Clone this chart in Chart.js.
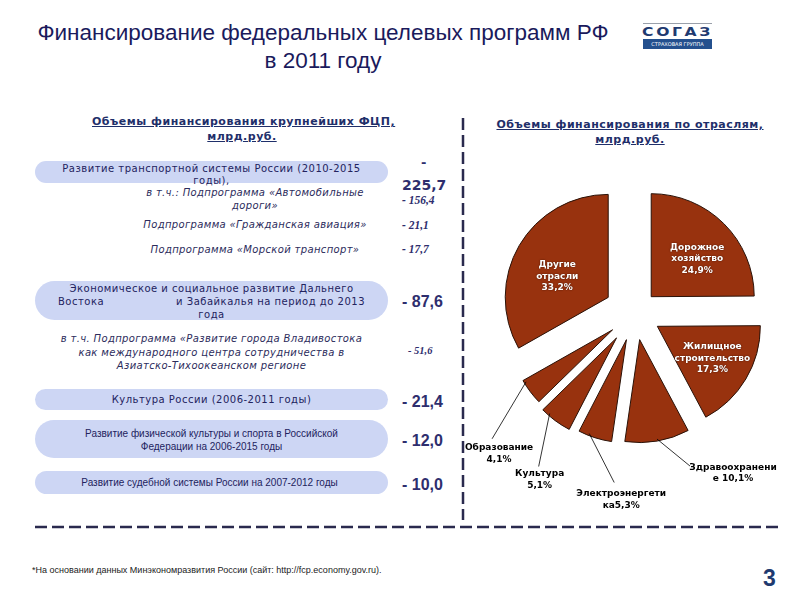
<!DOCTYPE html>
<html lang="ru">
<head>
<meta charset="utf-8">
<script src="https://cdn.jsdelivr.net/npm/chart.js@4.4.0/dist/chart.umd.min.js"></script>
<style>
  body { margin: 0; background: #fff; }
  #slide { position: relative; width: 800px; height: 600px; overflow: hidden; font-family: "DejaVu Sans", sans-serif; color: #1e1e5c; }
  .abs { position: absolute; white-space: nowrap; }
  .title { left: 0; top: 19px; width: 646px; text-align: center; font-family: "Liberation Sans Narrow", "Arial Narrow", "Liberation Sans", sans-serif; font-size: 22.5px; line-height: 28px; color: #1a1a5c; }
  .head { font-weight: bold; font-size: 11px; letter-spacing: 0.5px; line-height: 15px; text-align: center; text-decoration: underline; color: #1f2f6a; }
  .pill { position: absolute; left: 35px; width: 353px; background: #cdd6f4; border-radius: 999px; }
  .ptext { position: absolute; left: 35px; width: 353px; text-align: center; font-size: 10px; letter-spacing: 0.5px; line-height: 13px; color: #23235e; white-space: nowrap; }
  .ital { font-style: italic; color: #2c2c5c; letter-spacing: 0.35px; }
  .arial { font-family: "Liberation Sans", Arial, sans-serif; letter-spacing: 0; }
  .val { position: absolute; font-weight: bold; color: #2e2e6e; white-space: nowrap; }
  .big { font-family: "Liberation Sans", Arial, sans-serif; font-size: 16px; }
  .small { font-family: "Liberation Serif", serif; font-style: italic; font-size: 11.5px; }
  #pie { position: absolute; left: 455px; top: 150px; }
</style>
</head>
<body>
<div id="slide">
  <div class="abs title">Финансирование федеральных целевых программ РФ<br>в 2011 году</div>

  <div class="abs" style="left:643px;top:23px;width:69px;height:1px;background:#9aa0aa;"></div>
  <div class="abs" style="left:643px;top:26px;width:69px;text-align:center;font-weight:bold;font-size:12px;line-height:12px;color:#1f3a70;letter-spacing:2px;transform:scaleX(1.3);transform-origin:center;">СОГАЗ</div>
  <div class="abs" style="left:643px;top:39px;width:69px;height:10px;background:#24508e;color:#fff;font-size:5px;line-height:10px;text-align:center;">СТРАХОВАЯ ГРУППА</div>

  <div class="abs head" style="left:92px;top:114px;width:300px;">Объемы финансирования крупнейших ФЦП,<br>млрд.руб.</div>
  <div class="abs head" style="left:480px;top:117px;width:300px;">Объемы финансирования по отраслям,<br>млрд.руб.</div>

  <div id="table"></div>

  <svg class="abs" style="left:0;top:0;" width="800" height="600">
    <line x1="463" y1="118" x2="463" y2="520" stroke="#2a2a4e" stroke-width="2.5" stroke-dasharray="12 5"/>
    <line x1="35" y1="527" x2="781" y2="527" stroke="#2a2a4e" stroke-width="2.5" stroke-dasharray="12 5"/>
  </svg>

  <canvas id="pie" width="345" height="370"></canvas>

  <div class="abs" style="left:32px;top:565px;font-family:'Liberation Sans Narrow','Arial Narrow',sans-serif;font-size:9px;color:#222;">*На основании данных Минэкономразвития России (сайт: http://fcp.economy.gov.ru).</div>
  <div class="abs" style="left:763px;top:565px;font-family:'Liberation Sans',Arial,sans-serif;font-weight:bold;font-size:23px;color:#1f3a70;">3</div>
</div>

<script>
// largest programmes, bn rub
const programs = [
  'Развитие транспортной системы России (2010-2015 годы),',
  'Экономическое и социальное развитие Дальнего Востока и Забайкалья на период до 2013 года',
  'Культура России (2006-2011 годы)',
  'Развитие физической культуры и спорта в Российской Федерации на 2006-2015 годы',
  'Развитие судебной системы России на 2007-2012 годы'
];
const programValues = [225.7, 87.6, 21.4, 12.0, 10.0];
const subPrograms = [
  'Подпрограмма «Автомобильные дороги»',
  'Подпрограмма «Гражданская авиация»',
  'Подпрограмма «Морской транспорт»',
  'Подпрограмма «Развитие города Владивостока как международного центра сотрудничества в Азиатско-Тихоокеанском регионе'
];
const subValues = [156.4, 21.1, 17.7, 51.6];

// funding by sector, %
const sectors = ['Дорожное хозяйство', 'Жилищное строительство', 'Здравоохранение', 'Электроэнергетика', 'Культура', 'Образование', 'Другие отрасли'];
const shares = [24.9, 17.3, 10.1, 5.3, 5.1, 4.1, 33.2];
const sectorLabel = [
  ['Дорожное', 'хозяйство', '{p}'],
  ['Жилищное', 'строительство', '{p}'],
  ['Здравоохранени', 'е {p}'],
  ['Электроэнергети', 'ка{p}'],
  ['Культура', '{p}'],
  ['Образование', '{p}'],
  ['Другие', 'отрасли', '{p}']
];

const fmt = v => v.toFixed(1).replace('.', ',');

// left table
const t = document.getElementById('table');
function add(html) { t.insertAdjacentHTML('beforeend', html); }

add('<div class="pill" style="top:161px;height:22px;"></div>');
add('<div class="ptext" style="top:163px;line-height:12px;">Развитие транспортной системы России (2010-2015<br>годы),</div>');
add('<div class="ptext ital" style="top:186px;left:140px;width:230px;">в т.ч.: ' + subPrograms[0].replace('«Автомобильные ', '«Автомобильные<br>') + '</div>');
add('<div class="ptext ital" style="top:218px;left:140px;width:230px;">' + subPrograms[1] + '</div>');
add('<div class="ptext ital" style="top:243px;left:140px;width:230px;">' + subPrograms[2] + '</div>');

add('<div class="pill" style="top:281px;height:39px;"></div>');
add('<div class="ptext" style="top:282px;">Экономическое и социальное развитие Дальнего<br>' +
    '<span style="display:flex;justify-content:space-between;width:307px;margin-left:23px;"><span>Востока</span><span>и Забайкалья на период до 2013</span></span>года</div>');
add('<div class="ptext ital" style="top:332px;left:35px;width:353px;line-height:13.5px;">в т.ч. Подпрограмма «Развитие города Владивостока<br>как международного центра сотрудничества в<br>Азиатско-Тихоокеанском регионе</div>');

add('<div class="pill" style="top:389px;height:21px;"></div>');
add('<div class="ptext" style="top:393px;">' + programs[2] + '</div>');

add('<div class="pill" style="top:420px;height:38px;"></div>');
add('<div class="ptext arial" style="top:427px;">Развитие физической культуры и спорта в Российской<br>Федерации на 2006-2015 годы</div>');

add('<div class="pill" style="top:471px;height:23px;"></div>');
add('<div class="ptext arial" style="top:476px;left:33px;">' + programs[4] + '</div>');

// values column
add('<div class="val" style="left:421px;top:155px;font-size:13px;">-</div>');
add('<div class="val" style="left:402px;top:177px;font-size:14px;">' + fmt(programValues[0]) + '</div>');
add('<div class="val small" style="left:402px;top:194px;">- ' + fmt(subValues[0]) + '</div>');
add('<div class="val small" style="left:402px;top:219px;">- ' + fmt(subValues[1]) + '</div>');
add('<div class="val small" style="left:402px;top:243px;">- ' + fmt(subValues[2]) + '</div>');
add('<div class="val big" style="left:402px;top:293px;">- ' + fmt(programValues[1]) + '</div>');
add('<div class="val small" style="left:408px;top:345px;font-size:10.5px;">- ' + fmt(subValues[3]) + '</div>');
add('<div class="val big" style="left:402px;top:393px;">- ' + fmt(programValues[2]) + '</div>');
add('<div class="val big" style="left:402px;top:432px;">- ' + fmt(programValues[3]) + '</div>');
add('<div class="val big" style="left:402px;top:476px;">- ' + fmt(programValues[4]) + '</div>');

// pie where every slice is pulled out by its own distance, radius unchanged
class ExplodedPieController extends Chart.PieController {
  draw() {
    const ctx = this.chart.ctx;
    const shifts = this.getDataset().explode || [];
    this._cachedMeta.data.forEach((arc, i) => {
      const mid = (arc.startAngle + arc.endAngle) / 2;
      const d = shifts[i] || 0;
      ctx.save();
      ctx.translate(Math.cos(mid) * d, Math.sin(mid) * d);
      arc.draw(ctx);
      ctx.restore();
    });
  }
}
ExplodedPieController.id = 'explodedPie';
Chart.register(ExplodedPieController);

// pie labels: inside ones are placed from the slice tip, outside ones get a leader line
const pieLabels = {
  id: 'pieLabels',
  afterDatasetsDraw(chart, args, opts) {
    const ctx = chart.ctx;
    const meta = chart.getDatasetMeta(0);
    const shifts = chart.data.datasets[0].explode;
    ctx.save();
    ctx.font = 'bold 9px "DejaVu Sans", sans-serif';
    ctx.textAlign = 'center';
    ctx.textBaseline = 'middle';
    meta.data.forEach((arc, i) => {
      const p = arc.getProps(['x', 'y', 'startAngle', 'endAngle', 'outerRadius'], true);
      const mid = (p.startAngle + p.endAngle) / 2;
      const cx = p.x + Math.cos(mid) * shifts[i];
      const cy = p.y + Math.sin(mid) * shifts[i];
      const pl = opts.place[i];
      const lines = sectorLabel[i].map(s => s.replace('{p}', fmt(shares[i]) + '%'));
      let tx, ty;
      if (pl.inside) {
        tx = cx + pl.dx; ty = cy + pl.dy;
        ctx.fillStyle = '#fff';
        ctx.shadowColor = 'rgba(40,10,0,0.9)';
        ctx.shadowBlur = 1.5;
      } else {
        const a = p.startAngle + pl.t * (p.endAngle - p.startAngle);
        const ex = cx + Math.cos(a) * p.outerRadius * 0.98;
        const ey = cy + Math.sin(a) * p.outerRadius * 0.98;
        ctx.shadowBlur = 0;
        ctx.strokeStyle = '#000';
        ctx.lineWidth = 0.8;
        ctx.beginPath();
        ctx.moveTo(ex, ey);
        ctx.lineTo(ex + pl.lx, ey + pl.ly);
        ctx.stroke();
        tx = ex + pl.dx; ty = ey + pl.dy;
        ctx.fillStyle = '#000';
      }
      const lh = 11.5;
      lines.forEach((s, k) => ctx.fillText(s, tx, ty + (k - (lines.length - 1) / 2) * lh));
    });
    ctx.restore();
  }
};

new Chart(document.getElementById('pie'), {
  type: 'explodedPie',
  data: {
    labels: sectors,
    datasets: [{
      data: shares,
      backgroundColor: '#98320e',
      borderColor: '#2a1208',
      borderWidth: 1,
      explode: [23, 26, 27, 28, 31, 28, 31]
    }]
  },
  options: {
    responsive: false,
    animation: false,
    radius: 103,
    layout: { padding: { left: 15, right: 0, top: 0, bottom: 44 } },
    plugins: {
      legend: { display: false },
      tooltip: { enabled: false },
      pieLabels: {
        place: [
          { inside: true, dx: 46, dy: -38 },
          { inside: true, dx: 55, dy: 32 },
          { t: 0.5, lx: 33, ly: 27, dx: 76, dy: 34 },
          { t: 0.7, lx: 25, ly: 49, dx: 32, dy: 66 },
          { t: 0.77, lx: -11, ly: 53, dx: -10, dy: 66 },
          { t: 0.9, lx: -34, ly: 57, dx: -27, dy: 72 },
          { inside: true, dx: -51, dy: -21 }
        ]
      }
    }
  },
  plugins: [pieLabels]
});
</script>
</body>
</html>
